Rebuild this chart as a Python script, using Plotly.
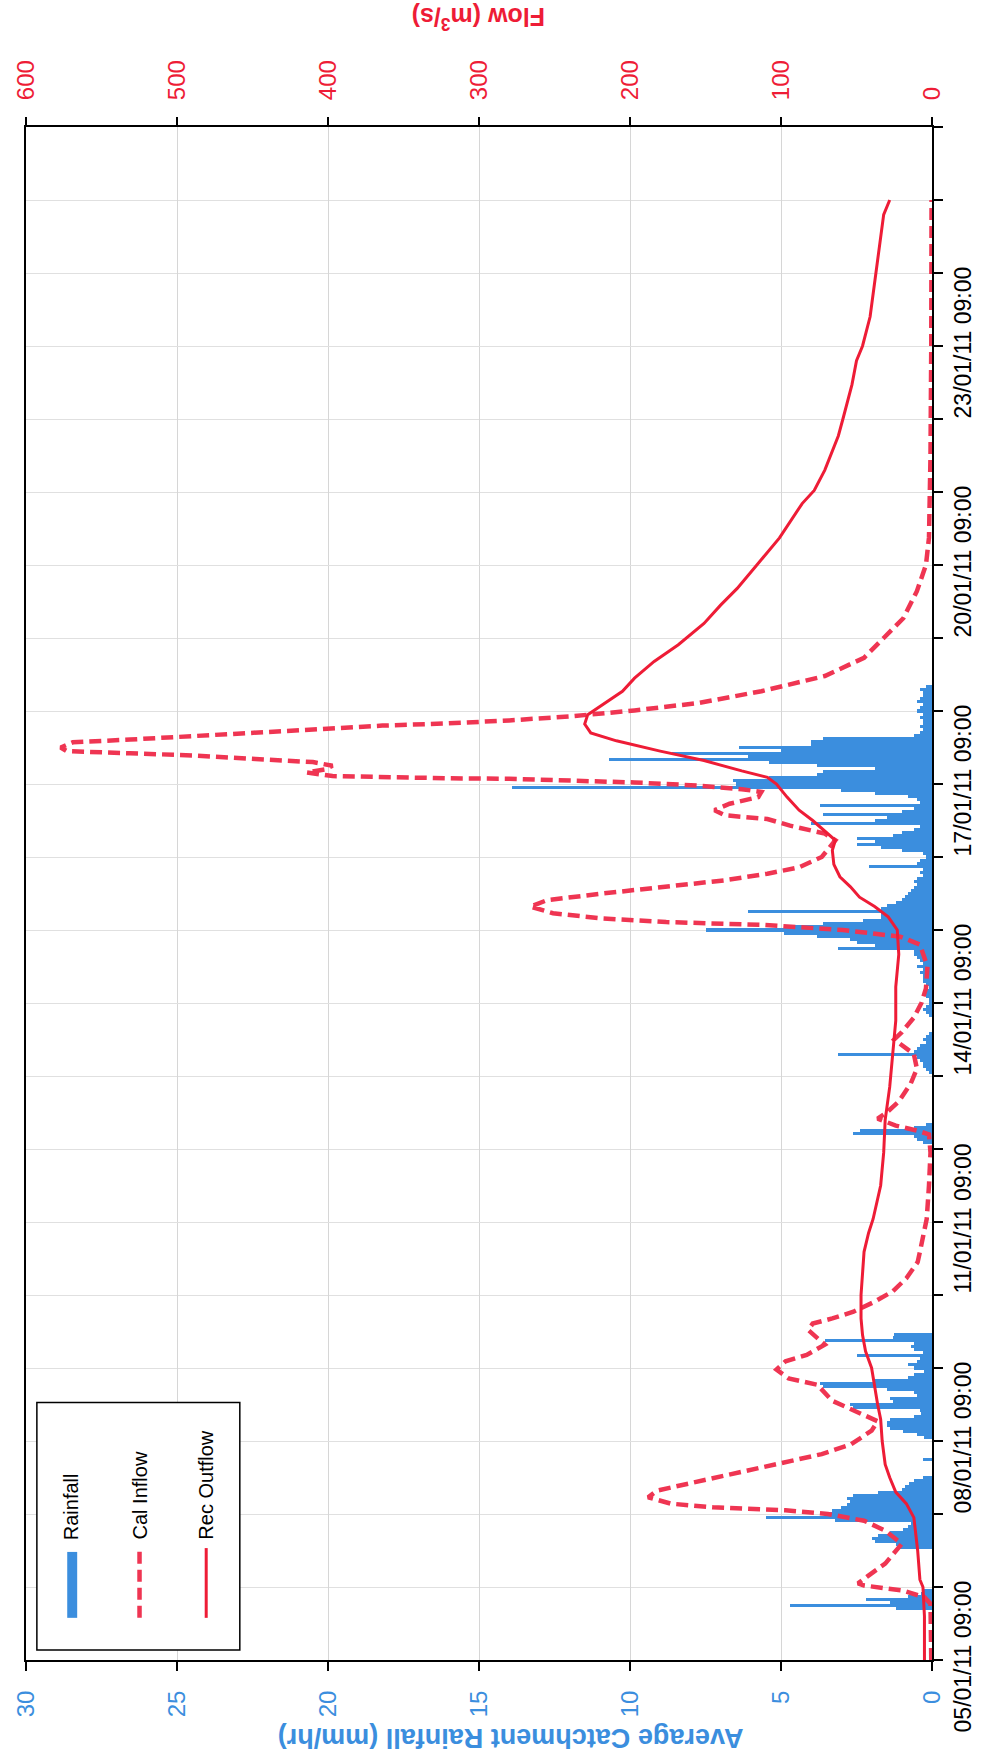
import pandas as pd
import plotly.graph_objects as go

# Series start (first category of the hourly record)
START = pd.Timestamp("2011-01-05 09:00")
AXIS_DAYS = 21

# Hourly average catchment rainfall (mm/hr), grouped by storm; each list starts at the given hour offset
rain_a_start, rain_a = 17, [1.2, 4.7, 1.4, 2.2, 0.8, 0.35, 0.25]
rain_b_start, rain_b = 37, [1.1, 1.2, 1.9, 2.0, 1.8, 1.4, 0.95, 0.8, 0.7, 3.2, 5.5, 3.4,
                            3.3, 3.0, 2.8, 2.7, 2.8, 2.6, 1.8, 1.0, 0.9, 0.75, 0.6, 0.3]
rain_c_start, rain_c = 66, [0.3]
rain_d_start, rain_d = 73, [0.25, 0.5, 0.95, 1.4, 1.5, 1.5, 1.4, 0.6, 0.35, 0.4, 2.6, 2.7,
                            1.3, 1.4, 0.5, 0.6, 1.5, 3.6, 3.7, 1.9, 0.8, 0.6, 0.25, 0.6,
                            0.8, 0.5, 0.4, 2.5, 0.3, 0.6, 0.7, 0.6, 3.55, 1.3, 1.25]
rain_e_start, rain_e = 170, [0.3, 0.5, 0.6, 2.6, 2.4, 0.6, 0.2]
rain_f_start, rain_f = 193, [0.1, 0.2, 0.3, 0.3, 0.4, 0.5, 3.1, 0.6, 0.5, 0.4, 0.2, 0.3, 0.2, 0.1]
rain_g_start, rain_g = 212, [0.1, 0.2, 0.3, 0.2, 0.1, 0.1, 0.2, 0.3, 0.2, 0.1, 0.2, 0.3, 0.3,
                             0.3, 0.4, 0.3, 0.5, 0.3, 0.4, 0.5, 0.6, 0.6]
rain_h_start, rain_h = 234, [3.1, 1.9, 2.5, 2.7, 3.8, 4.9, 7.5, 4.8, 3.6, 2.3, 1.7, 1.7, 6.1,
                             1.7, 1.5, 1.2, 1.0, 0.9, 0.8, 0.7, 0.6, 0.5, 0.6, 0.5, 0.3, 0.4, 0.3]
rain_i_start, rain_i = 261, [2.1, 0.5, 0.4, 0.2, 0.3, 1.0, 1.7, 2.5, 1.9, 2.5, 1.3, 1.0, 0.6,
                             0.4, 4.0, 1.9, 1.5, 3.6, 1.0, 0.6, 3.7, 0.4, 0.5, 0.8, 1.9, 3.0,
                             13.9, 6.5, 6.6, 5.4, 3.8, 3.6, 1.9, 3.8, 5.4, 10.7, 6.1, 8.6,
                             5.0, 6.4, 4.0, 4.0, 3.6]
rain_j_start, rain_j = 304, [0.6, 0.4, 0.3, 0.4, 0.3, 0.3, 0.4, 0.3, 0.5, 0.4, 0.3, 0.5, 0.4,
                             0.3, 0.3, 0.4, 0.2]

# Calculated inflow (m3/s) at hour offsets
cal_hours = [0, 18.5, 20.6, 22.8, 24.5, 25.2, 27.4, 31.7, 38.2, 42.5, 45.8, 48, 49.2, 50.2,
             51.4, 53.5, 55.7, 57.8, 61.2, 64.3, 67.7, 70.8, 75.4, 78.5, 81.8, 85.2, 90.5,
             92.6, 95.5, 98.2, 100.3, 103.7, 108.5, 110.6, 112.3, 114.5, 117.8, 121.2, 125.5,
             130.8, 134.2, 139.2, 145, 156, 166.8, 172.8, 174, 175.7, 178, 180, 183.6, 189.6,
             194.4, 199.2, 202.8, 204, 206.4, 211.2, 216, 220.8, 228, 235.2, 237.8, 240,
             241.7, 242.6, 243.8, 245.5, 247.7, 249.8, 252, 254.2, 256.3, 258.5, 260.6, 264,
             267.4, 269.5, 271.7, 274.3, 276.5, 277.7, 279.4, 281.5, 283.7, 285.4, 286.3,
             287.5, 288.5, 289.2, 289.7, 289.9, 290.2, 290.6, 291.8, 292.8, 294, 295.2, 296.2,
             297.4, 298.1, 298.8, 300, 301.7, 302.6, 303.8, 304.8, 306, 307.2, 307.9, 308.9,
             310.3, 312.2, 314.6, 318.5, 323.5, 329.5, 336, 342.5, 351.4, 360, 369, 380,
             396, 432, 480]
cal_flow = [0.5, 1, 5, 19, 45, 49, 43, 31, 20, 31, 45, 69, 97, 145,
            173, 188, 182, 163, 133, 102, 73, 54, 40, 36, 50, 66, 76,
            95, 103, 97, 83, 71, 82, 79, 66, 52, 38, 26, 17,
            9.5, 8, 6, 3.5, 2, 1, 2, 9.5, 24, 36, 30, 22, 14,
            10, 12, 22, 25, 20, 12, 7, 4, 3, 8, 21, 59,
            113, 176, 218, 251, 266, 255, 218, 176, 138, 109, 88, 73,
            67, 64, 71, 94, 109, 137, 144, 134, 115, 113, 126,
            155, 197, 238, 280, 322, 364, 397, 414, 402, 397, 410, 448,
            490, 531, 573, 577, 569, 531, 490, 448, 406, 364, 322, 280,
            238, 197, 155, 113, 71, 45, 32, 19, 10, 4, 2, 1.5,
            1, 0.5, 0.3]

# Recorded outflow (m3/s) at hour offsets
rec_hours = [0, 14.4, 24, 26.4, 36, 46.8, 51.4, 55.2, 60, 64.3, 72, 79.2, 84, 90.5, 96,
             101.5, 106.8, 112.3, 120, 134.2, 140.4, 145, 156, 166.8, 177.6, 188.4, 199.2,
             210.2, 221.3, 232, 240, 244.3, 247.7, 250.8, 254.2, 257.5, 261.6, 266.2, 269.5,
             272.6, 276, 279.4, 283.7, 288, 290.2, 292.3, 295.7, 298.8, 302.2, 304.8, 307.7,
             310.8, 314.2, 318.5, 322.8, 328.3, 333.8, 340.8, 346.8, 352.3, 360, 368.9,
             380.2, 384.5, 391.2, 402.5, 408, 419.3, 427.2, 432, 441.6, 456, 466.8, 475.2, 480]
rec_flow = [5, 5, 6, 8, 9.5, 12, 17, 24, 28, 31, 33, 34, 36, 38, 40,
            44, 46, 47, 47, 45, 42, 39, 34, 32, 31, 28, 26,
            24, 24, 22, 23, 29, 38, 48, 54, 61, 65, 66, 64,
            71, 79, 88, 96, 103, 109, 126, 151, 180, 209, 226, 230,
            228, 218, 205, 197, 184, 168, 151, 140, 129, 116, 101,
            86, 78, 71, 62, 59, 53, 50, 46, 41, 37, 34, 32, 28]

rain_ticks = [0, 5, 10, 15, 20, 25, 30]
flow_ticks = [0, 100, 200, 300, 400, 500, 600]
date_label_days = [0, 3, 6, 9, 12, 15, 18]

BLUE = "#3B8EDE"
RED = "#EE1C36"
RED_DASH = "#EF3552"
DASH = "12px,6px"
FONT = "Liberation Sans, Arial, sans-serif"
DAY_MS = 86400000


def at(hours):
    return [START + pd.Timedelta(hours=h) for h in hours]


rain_y, rain_x = [], []
for s, vals in [(rain_a_start, rain_a), (rain_b_start, rain_b), (rain_c_start, rain_c),
                (rain_d_start, rain_d), (rain_e_start, rain_e), (rain_f_start, rain_f),
                (rain_g_start, rain_g), (rain_h_start, rain_h), (rain_i_start, rain_i),
                (rain_j_start, rain_j)]:
    rain_y += at(range(s, s + len(vals)))
    rain_x += vals

label_ticks = [START + pd.Timedelta(days=d) for d in date_label_days]
label_text = [t.strftime("%d/%m/%y %H:%M") for t in label_ticks]
axis_end = START + pd.Timedelta(days=AXIS_DAYS)

fig = go.Figure()
fig.add_trace(go.Bar(name="Rainfall", x=rain_x, y=rain_y, orientation="h",
                     width=3600 * 1000, marker=dict(color=BLUE, line=dict(width=0)),
                     xaxis="x", yaxis="y"))
fig.add_trace(go.Scatter(name="Cal Inflow", x=cal_flow, y=at(cal_hours), mode="lines",
                         line=dict(color=RED_DASH, width=4.5, dash=DASH),
                         xaxis="x2", yaxis="y"))
fig.add_trace(go.Scatter(name="Rec Outflow", x=rec_flow, y=at(rec_hours), mode="lines",
                         line=dict(color=RED, width=3),
                         xaxis="x2", yaxis="y"))

fig.update_layout(
    width=995, height=1760,
    margin=dict(l=22, r=63, t=127, b=100),
    paper_bgcolor="white", plot_bgcolor="white",
    showlegend=False, bargap=0,
    font=dict(family=FONT, size=23, color="black"),
    xaxis=dict(range=[30, 0], tickvals=rain_ticks, tickangle=-90,
               tickfont=dict(color=BLUE, size=24, family=FONT),
               ticks="outside", ticklen=9, tickcolor="black", tickwidth=1.5,
               showline=True, linecolor="black", linewidth=2, mirror=True,
               showgrid=True, gridcolor="#d6d6d6", gridwidth=1, zeroline=False,
               ticklabelstandoff=10),
    xaxis2=dict(range=[600, 0], overlaying="x", side="top", tickvals=flow_ticks,
                tickangle=-90, tickfont=dict(color=RED, size=24, family=FONT),
                ticks="outside", ticklen=9, tickcolor="black", tickwidth=1.5,
                showgrid=False, zeroline=False, showline=False,
                ticklabelstandoff=12),
    yaxis=dict(type="date", range=[START, axis_end], tickvals=label_ticks,
               ticktext=label_text, tickangle=-90, side="right",
               tickfont=dict(color="black", size=23, family=FONT),
               ticks="outside", ticklen=9, tickcolor="black", tickwidth=1.5,
               showline=True, linecolor="black", linewidth=2, mirror=True,
               showgrid=True, gridcolor="#e0e0e0", gridwidth=1, zeroline=False,
               minor=dict(tickmode="linear", tick0=START, dtick=DAY_MS,
                          ticks="outside", ticklen=9, tickcolor="black", tickwidth=1.5,
                          showgrid=True, gridcolor="#e0e0e0", gridwidth=1)),
)

# Axis titles, set upside down like the rest of the rotated page
fig.add_annotation(text="Flow (m<sup>3</sup>/s)", xref="paper", yref="paper", x=0.5, y=1.071,
                   xanchor="center", yanchor="middle", showarrow=False, textangle=180,
                   font=dict(color=RED, size=25, family=FONT, weight="bold"))
fig.add_annotation(text="Average Catchment Rainfall (mm/hr)", xref="paper", yref="paper",
                   x=0.535, y=-0.0505, xanchor="center", yanchor="middle", showarrow=False,
                   textangle=180, font=dict(color=BLUE, size=27, family=FONT, weight="bold"))

# Legend box drawn in the lower-left corner of the plot
fig.add_shape(type="rect", xref="paper", yref="paper", x0=0.012, x1=0.236, y0=0.0065, y1=0.168,
              line=dict(color="black", width=1.5), fillcolor="white", layer="above")
fig.add_shape(type="rect", xref="paper", yref="paper", x0=0.0455, x1=0.0565, y0=0.0275, y1=0.0705,
              line=dict(width=0), fillcolor=BLUE, layer="above")
fig.add_shape(type="line", xref="paper", yref="paper", x0=0.1253, x1=0.1253, y0=0.0275, y1=0.073,
              line=dict(color=RED_DASH, width=4.5, dash=DASH), layer="above")
fig.add_shape(type="line", xref="paper", yref="paper", x0=0.1989, x1=0.1989, y0=0.0275, y1=0.073,
              line=dict(color=RED, width=3), layer="above")
for xpos, label in [(0.0505, "Rainfall"), (0.1253, "Cal Inflow"), (0.1989, "Rec Outflow")]:
    fig.add_annotation(text=label, xref="paper", yref="paper", x=xpos, y=0.077,
                       xanchor="center", yanchor="bottom", showarrow=False, textangle=-90,
                       font=dict(color="black", size=20, family=FONT))

fig.write_html("out.html")
